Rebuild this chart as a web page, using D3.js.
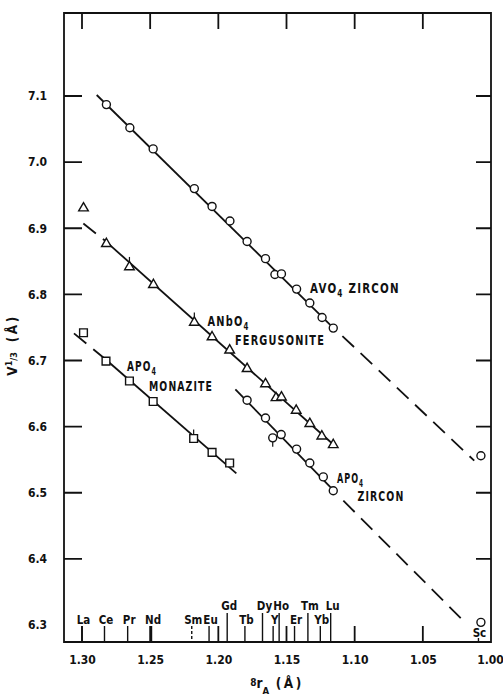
<!DOCTYPE html>
<html>
<head>
<meta charset="utf-8">
<script src="https://cdn.jsdelivr.net/npm/d3@7"></script>
<style>
  body { margin: 0; background: #fff; }
  svg text { font-family: "DejaVu Sans Condensed", sans-serif; fill: #111; }
</style>
</head>
<body>
<script>
// ionic radius (8-coordination) for each element, as marked along the bottom axis
var elements = [
    { sym: 'La', r: 1.300, tall: false },
    { sym: 'Ce', r: 1.2835, tall: false },
    { sym: 'Pr', r: 1.2665, tall: false },
    { sym: 'Nd', r: 1.249, tall: false },
    { sym: 'Sm', r: 1.2195, tall: false, dashed: true },
    { sym: 'Eu', r: 1.2068, tall: false },
    { sym: 'Gd', r: 1.1935, tall: true },
    { sym: 'Tb', r: 1.1805, tall: false },
    { sym: 'Dy', r: 1.1676, tall: true },
    { sym: 'Y',  r: 1.1598, tall: false },
    { sym: 'Ho', r: 1.1554, tall: true },
    { sym: 'Er', r: 1.1441, tall: false },
    { sym: 'Tm', r: 1.1343, tall: true },
    { sym: 'Yb', r: 1.1252, tall: false },
    { sym: 'Lu', r: 1.1176, tall: true }
];
var scandium = { sym: 'Sc', r: 1.0092 };

var xTicks = [1.30, 1.25, 1.20, 1.15, 1.10, 1.05, 1.00];
var yTicks = [6.3, 6.4, 6.5, 6.6, 6.7, 6.8, 6.9, 7.0, 7.1];

// measured points [radius, V^1/3]
var avo4Zircon = [
    [1.2821, 7.087], [1.2649, 7.052], [1.2478, 7.020], [1.2176, 6.960],
    [1.2046, 6.933], [1.1915, 6.911], [1.1789, 6.880], [1.1654, 6.854],
    [1.1585, 6.830], [1.1537, 6.831], [1.1426, 6.808], [1.1329, 6.787],
    [1.1239, 6.765], [1.1157, 6.749], [1.0074, 6.556]
];
var anbo4Fergusonite = [
    [1.2989, 6.932], [1.2821, 6.878], [1.2652, 6.843], [1.2476, 6.816],
    [1.2176, 6.759], [1.2046, 6.737], [1.1917, 6.717], [1.1789, 6.689],
    [1.1654, 6.666], [1.1577, 6.645], [1.1537, 6.646], [1.1429, 6.626],
    [1.1329, 6.606], [1.1241, 6.587], [1.1157, 6.574]
];
var apo4Monazite = [
    [1.2989, 6.742], [1.2824, 6.699], [1.2652, 6.669], [1.2478, 6.638],
    [1.2181, 6.582], [1.2046, 6.561], [1.1917, 6.545]
];
var apo4Zircon = [
    [1.1789, 6.640], [1.1654, 6.613], [1.1601, 6.583], [1.1539, 6.588],
    [1.1426, 6.566], [1.1329, 6.545], [1.1230, 6.524], [1.1157, 6.503],
    [1.0074, 6.304]
];

// short error marks on a few points: series, point index, direction
var errorMarks = [
    { s: 'anbo4Fergusonite', i: 2, dir: -1 },
    { s: 'anbo4Fergusonite', i: 4, dir: -1 },
    { s: 'apo4Monazite', i: 4, dir: -1 },
    { s: 'apo4Zircon', i: 2, dir: 1 }
];

// fitted lines [radius, V^1/3]
var fitLines = [
    { dashed: false, pts: [[1.2892, 7.1015], [1.1157, 6.7495]] },
    { dashed: true,  pts: [[1.1090, 6.737], [1.0123, 6.5485]] },
    { dashed: true,  pts: [[1.2990, 6.9072], [1.2830, 6.881]] },
    { dashed: false, pts: [[1.2830, 6.881], [1.1140, 6.570]] },
    { dashed: true,  pts: [[1.3059, 6.7411], [1.2830, 6.7023]] },
    { dashed: false, pts: [[1.2830, 6.7023], [1.1868, 6.5294]] },
    { dashed: false, pts: [[1.1875, 6.6565], [1.1157, 6.504]] },
    { dashed: true,  pts: [[1.1083, 6.488], [1.0184, 6.3026]] }
];

// compound names written beside the lines
var annotations = [
    ['AVO', '4', ' ZIRCON'],
    ['ANbO', '4'],
    ['FERGUSONITE'],
    ['APO', '4'],
    ['MONAZITE'],
    ['APO', '4'],
    ['ZIRCON']
];

var series = {
    avo4Zircon: { data: avo4Zircon, shape: 'circle' },
    anbo4Fergusonite: { data: anbo4Fergusonite, shape: 'triangle' },
    apo4Monazite: { data: apo4Monazite, shape: 'square' },
    apo4Zircon: { data: apo4Zircon, shape: 'circle' }
};

var width = 503;
var height = 699;
var plotLeft = 64, plotRight = 491, plotTop = 13, plotBottom = 642;
// where each annotation sits (left, baseline) and how wide it is
var annotationBoxes = [
    [310, 293, 90], [207.5, 326, 42], [235, 345, 90],
    [127, 371, 30], [149, 391, 64], [337, 483, 27], [357.5, 501, 47]
];

var x = d3.scaleLinear().domain([1.3132, 1.00]).range([plotLeft, plotRight]);
var y = d3.scaleLinear().domain([6.3, 7.1]).range([625, 96]);

var svg = d3.select('body').append('svg')
    .attr('width', width)
    .attr('height', height);

// axis labels from d3 axes; the inward tick marks go into the frame path
var xAxisG = svg.append('g')
    .attr('transform', 'translate(0,' + plotBottom + ')')
    .call(d3.axisBottom(x).tickValues(xTicks).tickFormat(d3.format('.2f'))
        .tickSize(0).tickPadding(13));
xAxisG.selectAll('.tick text').filter(function(d) { return d === 1.00; }).attr('dx', -1);

svg.append('g')
    .attr('transform', 'translate(' + plotLeft + ',0)')
    .call(d3.axisLeft(y).tickValues(yTicks).tickFormat(d3.format('.1f'))
        .tickSize(0).tickPadding(17));

svg.selectAll('.domain').remove();
svg.selectAll('.tick line').remove();
svg.selectAll('.tick text')
    .attr('font-size', 12)
    .attr('font-weight', 'bold')
    .attr('fill', '#111');

// element markers along the bottom
var el = svg.append('g');
el.selectAll('line')
    .data(elements)
    .enter().append('line')
    .attr('x1', function(d) { return x(d.r); })
    .attr('x2', function(d) { return x(d.r); })
    .attr('y1', function(d) { return d.tall ? plotBottom - 29 : plotBottom - 16; })
    .attr('y2', plotBottom)
    .attr('stroke', '#111').attr('stroke-width', 1.4)
    .attr('stroke-dasharray', function(d) { return d.dashed ? '3,2' : null; });

el.selectAll('text')
    .data(elements)
    .enter().append('text')
    .attr('x', function(d) { return x(d.r) + (d.tall ? 2 : 1.5); })
    .attr('y', function(d) { return d.tall ? plotBottom - 32 : plotBottom - 18; })
    .attr('text-anchor', 'middle')
    .attr('font-size', 11.5)
    .attr('font-weight', 'bold')
    .text(function(d) { return d.sym; });

el.append('line')
    .attr('x1', x(scandium.r)).attr('x2', x(scandium.r))
    .attr('y1', plotBottom - 4).attr('y2', plotBottom)
    .attr('stroke', '#111').attr('stroke-width', 1.4);
el.append('text')
    .attr('x', x(scandium.r) + 1).attr('y', plotBottom - 5)
    .attr('text-anchor', 'middle')
    .attr('font-size', 11.5).attr('font-weight', 'bold')
    .text(scandium.sym);

// fitted lines
var line = d3.line()
    .x(function(d) { return x(d[0]); })
    .y(function(d) { return y(d[1]); });

svg.append('g').selectAll('path')
    .data(fitLines)
    .enter().append('path')
    .attr('d', function(d) { return line(d.pts); })
    .attr('fill', 'none')
    .attr('stroke', '#111')
    .attr('stroke-width', 1.8)
    .attr('stroke-dasharray', function(d) { return d.dashed ? '16,9' : null; });

// error marks
svg.append('g').selectAll('line')
    .data(errorMarks)
    .enter().append('line')
    .attr('x1', function(d) { return x(series[d.s].data[d.i][0]); })
    .attr('x2', function(d) { return x(series[d.s].data[d.i][0]); })
    .attr('y1', function(d) { return y(series[d.s].data[d.i][1]); })
    .attr('y2', function(d) { return y(series[d.s].data[d.i][1]) + d.dir * 9; })
    .attr('stroke', '#111').attr('stroke-width', 1.2);

// markers
var symbols = {
    triangle: d3.symbol().type(d3.symbolTriangle).size(40),
    square: d3.symbol().type(d3.symbolSquare).size(60)
};

Object.keys(series).forEach(function(key) {
    var s = series[key];
    var g = svg.append('g').attr('class', key);
    if (s.shape === 'circle') {
        g.selectAll('circle')
            .data(s.data)
            .enter().append('circle')
            .attr('cx', function(d) { return x(d[0]); })
            .attr('cy', function(d) { return y(d[1]); })
            .attr('r', 4)
            .attr('fill', '#fff').attr('stroke', '#111').attr('stroke-width', 1.4);
    } else {
        g.selectAll('path')
            .data(s.data)
            .enter().append('path')
            .attr('d', symbols[s.shape])
            .attr('transform', function(d) {
                return 'translate(' + x(d[0]) + ',' + (y(d[1]) + (s.shape === 'triangle' ? 1 : 0)) + ')';
            })
            .attr('fill', '#fff').attr('stroke', '#111').attr('stroke-width', 1.4);
    }
});

// compound labels, squeezed to the width they have in the original
annotations.forEach(function(parts, i) {
    var box = annotationBoxes[i];
    var g = svg.append('g');
    var t = g.append('text')
        .attr('font-size', 14)
        .attr('font-weight', 'bold')
        .attr('letter-spacing', 1.5);
    parts.forEach(function(p, j) {
        var ts = t.append('tspan').text(p);
        if (p === '4') ts.attr('font-size', 10).attr('dy', 4);
        else if (j > 0) ts.attr('dy', -4);
    });
    var w = t.node().getBBox().width;
    g.attr('transform', 'translate(' + box[0] + ',' + box[1] + ') scale(' + (box[2] / w) + ',1)');
});

// axis titles
var yt = svg.append('text')
    .attr('transform', 'translate(17,345) rotate(-90)')
    .attr('text-anchor', 'middle')
    .attr('font-size', 13.5)
    .attr('font-weight', 'bold');
yt.append('tspan').text('V');
yt.append('tspan').attr('font-size', 9).attr('dy', -5).text('1');
yt.append('tspan').attr('font-size', 9).attr('dy', 5).text('/3');
yt.append('tspan').attr('dx', 3).attr('letter-spacing', 2.5).text(' (Å)');

var xt = svg.append('text')
    .attr('x', 277).attr('y', 688)
    .attr('text-anchor', 'middle')
    .attr('font-size', 13.5)
    .attr('font-weight', 'bold');
xt.append('tspan').attr('font-size', 10).attr('dy', -2).text('8');
xt.append('tspan').attr('dy', 2).text('r');
xt.append('tspan').attr('font-size', 9.5).attr('dy', 6).text('A');
xt.append('tspan').attr('dy', -6).attr('letter-spacing', 2.5).text('  (Å)');

// frame with inward ticks on all four sides, as one path
var frame = d3.path();
frame.rect(plotLeft, plotTop, plotRight - plotLeft, plotBottom - plotTop);
xTicks.slice(0, 6).forEach(function(v) {
    frame.moveTo(x(v), plotTop);
    frame.lineTo(x(v), plotTop + 16);
    frame.moveTo(x(v), plotBottom);
    frame.lineTo(x(v), plotBottom - 16);
});
yTicks.slice(1).forEach(function(v) {
    frame.moveTo(plotLeft, y(v));
    frame.lineTo(plotLeft + 18, y(v));
    frame.moveTo(plotRight, y(v));
    frame.lineTo(plotRight - 15, y(v));
});
svg.append('path')
    .attr('d', frame.toString())
    .attr('fill', 'none')
    .attr('stroke', '#111')
    .attr('stroke-width', 1.8);
</script>
</body>
</html>
